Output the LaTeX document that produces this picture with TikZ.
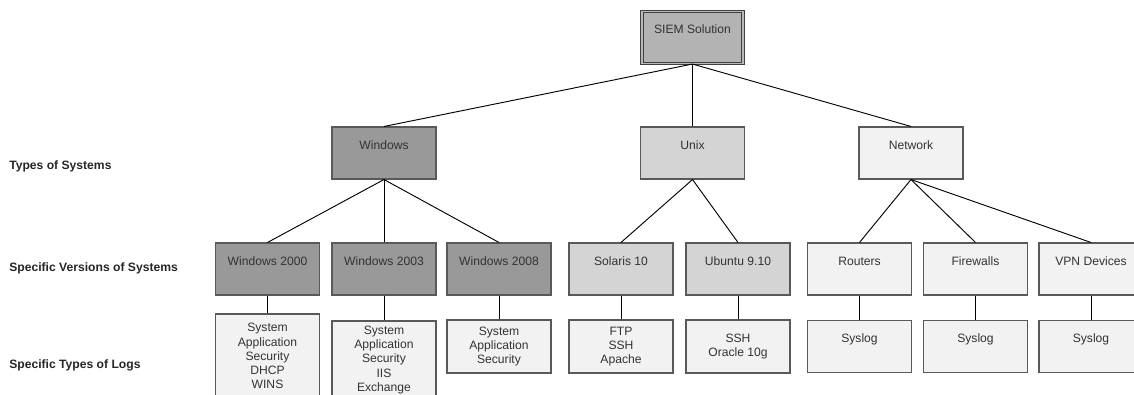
\documentclass[tikz,border=0pt]{standalone}
\usepackage{fontspec}
\setmainfont{Liberation Sans}
\usepackage{tikz}
\usetikzlibrary{positioning}

\definecolor{siemfill}{HTML}{B3B3B3}
\definecolor{winfill}{HTML}{999999}
\definecolor{unixfill}{HTML}{D4D4D4}
\definecolor{netfill}{HTML}{F2F2F2}

\begin{document}
\begin{tikzpicture}[x=0.75pt,y=-0.75pt,
	box/.style={draw=black!65, line width=0.8pt, minimum width=78pt, inner xsep=0pt,
		font=\fontsize{9.1}{10.6}\selectfont, text=black!80, align=center},
	topbox/.style={box, inner ysep=0pt, text height=16.5pt, text depth=22.5pt},
	logbox/.style={box, fill=netfill, minimum height=#1},
	rowlabel/.style={anchor=west, inner sep=0pt, font=\bfseries\fontsize{9.1}{10}\selectfont, text=black!85}]
		\useasboundingbox[clip] (0,0) rectangle (1134,394);
		% levels
		\node[rowlabel] (lvlone) at (9,166) {Types of Systems};
		\node[rowlabel] (lvltwo) at (9,268) {Specific Versions of Systems};
		\node[rowlabel] (lvlthree) at (9,365) {Specific Types of Logs};
		% root
		\node[topbox, fill=siemfill, draw=black!75, double=gray!55, double distance=1.2pt,
			minimum width=76pt] (siem) at (692.5,37.5) {SIEM Solution};
		% systems
		\node[topbox, fill=winfill] (win) at (384,153) {Windows};
		\node[topbox, fill=unixfill] (unix) at (692.5,153) {Unix};
		\node[topbox, fill=netfill] (net) at (911,153) {Network};
		% versions
		\node[topbox, fill=winfill] (wtwok) at (267.5,269) {Windows 2000};
		\node[topbox, fill=winfill] (wtwokthree) at (384,269) {Windows 2003};
		\node[topbox, fill=winfill] (wtwokeight) at (499,269) {Windows 2008};
		\node[topbox, fill=unixfill] (solaris) at (621,269) {Solaris 10};
		\node[topbox, fill=unixfill] (ubuntu) at (738,269) {Ubuntu 9.10};
		\node[topbox, fill=netfill] (routers) at (859.5,269) {Routers};
		\node[topbox, fill=netfill] (firewalls) at (975.5,269) {Firewalls};
		\node[topbox, fill=netfill] (vpn) at (1091,269) {VPN Devices};
		% logs
		\node[logbox=63pt] (logwtwok) at (267.5,356) {System\\Application\\Security\\DHCP\\WINS};
		\node[logbox=58.5pt] (logwtwokthree) at (384,360) {System\\Application\\Security\\IIS\\Exchange};
		\node[logbox=39.75pt] (logwtwokeight) at (499,346.5) {System\\Application\\Security};
		\node[logbox=39.75pt] (logsolaris) at (621,346.5) {FTP\\SSH\\Apache};
		\node[logbox=39.75pt] (logubuntu) at (738,346.5) {SSH\\Oracle 10g};
		\node[topbox, fill=netfill] (logrouters) at (859.5,346.5) {Syslog};
		\node[topbox, fill=netfill] (logfirewalls) at (975.5,346.5) {Syslog};
		\node[topbox, fill=netfill] (logvpn) at (1091,346.5) {Syslog};
		% connectors
		\foreach \a/\b in {siem/win,siem/unix,siem/net,
			win/wtwok,win/wtwokthree,win/wtwokeight,unix/solaris,unix/ubuntu,
			net/routers,net/firewalls,net/vpn,
			wtwok/logwtwok,wtwokthree/logwtwokthree,wtwokeight/logwtwokeight,
			solaris/logsolaris,ubuntu/logubuntu,routers/logrouters,
			firewalls/logfirewalls,vpn/logvpn}
			\draw[line width=0.7pt] (\a.south) -- (\b.north);
\end{tikzpicture}
\end{document}
